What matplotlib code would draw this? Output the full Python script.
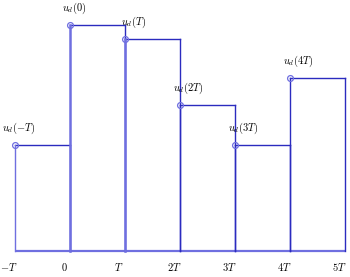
import numpy as np
import matplotlib
matplotlib.use("Agg")
import matplotlib.pyplot as plt

plt.rcParams['mathtext.fontset'] = 'cm'

# sample instants (in units of T) and held values
k = [-1, 0, 1, 2, 3, 4]
u = [106, 226, 212, 146, 106, 173]
labels = [r'$u_d(-T)$', r'$u_d(0)$', r'$u_d(T)$', r'$u_d(2T)$', r'$u_d(3T)$', r'$u_d(4T)$']
ticks = [-1, 0, 1, 2, 3, 4, 5]
tick_labels = [r'$-T$', r'$0$', r'$T$', r'$2T$', r'$3T$', r'$4T$', r'$5T$']

fig = plt.figure(figsize=(3.5, 2.77), dpi=100)
ax = fig.add_axes([0, 0, 1, 1])
ax.set_xlim(-1 - 15 / 55, 5 + 5 / 55)
ax.set_ylim(-26, 251)
ax.axis('off')

dark = '#2b2bbf'
light = '#6f6fe0'

# baseline
ax.plot([k[0], k[-1] + 1], [0, 0], color=light, lw=1.6, solid_capstyle='butt')

for i, (t, v) in enumerate(zip(k, u)):
    # top of hold
    ax.plot([t, t + 1], [v, v], color=dark, lw=1.0)
    # right edge
    ax.plot([t + 1, t + 1], [0, v], color=dark, lw=1.0)
    # left edge
    lw = 1.8 if t in (0, 1) else 1.0
    col = light if t in (-1, 0, 1) else dark
    ax.plot([t, t], [0, v], color=col, lw=lw)
    ax.plot(t, v, 'o', ms=4.2, mfc='none', mec=light, mew=0.9)
    off = 0.07 if t < 1 else 0.16
    ax.text(t + off, v + 17, labels[i], ha='center', va='center', fontsize=7.5)

for t, s in zip(ticks, tick_labels):
    ax.text(t - 0.11, -16, s, ha='center', va='center', fontsize=7.5)

fig.savefig('out.png', dpi=100)
